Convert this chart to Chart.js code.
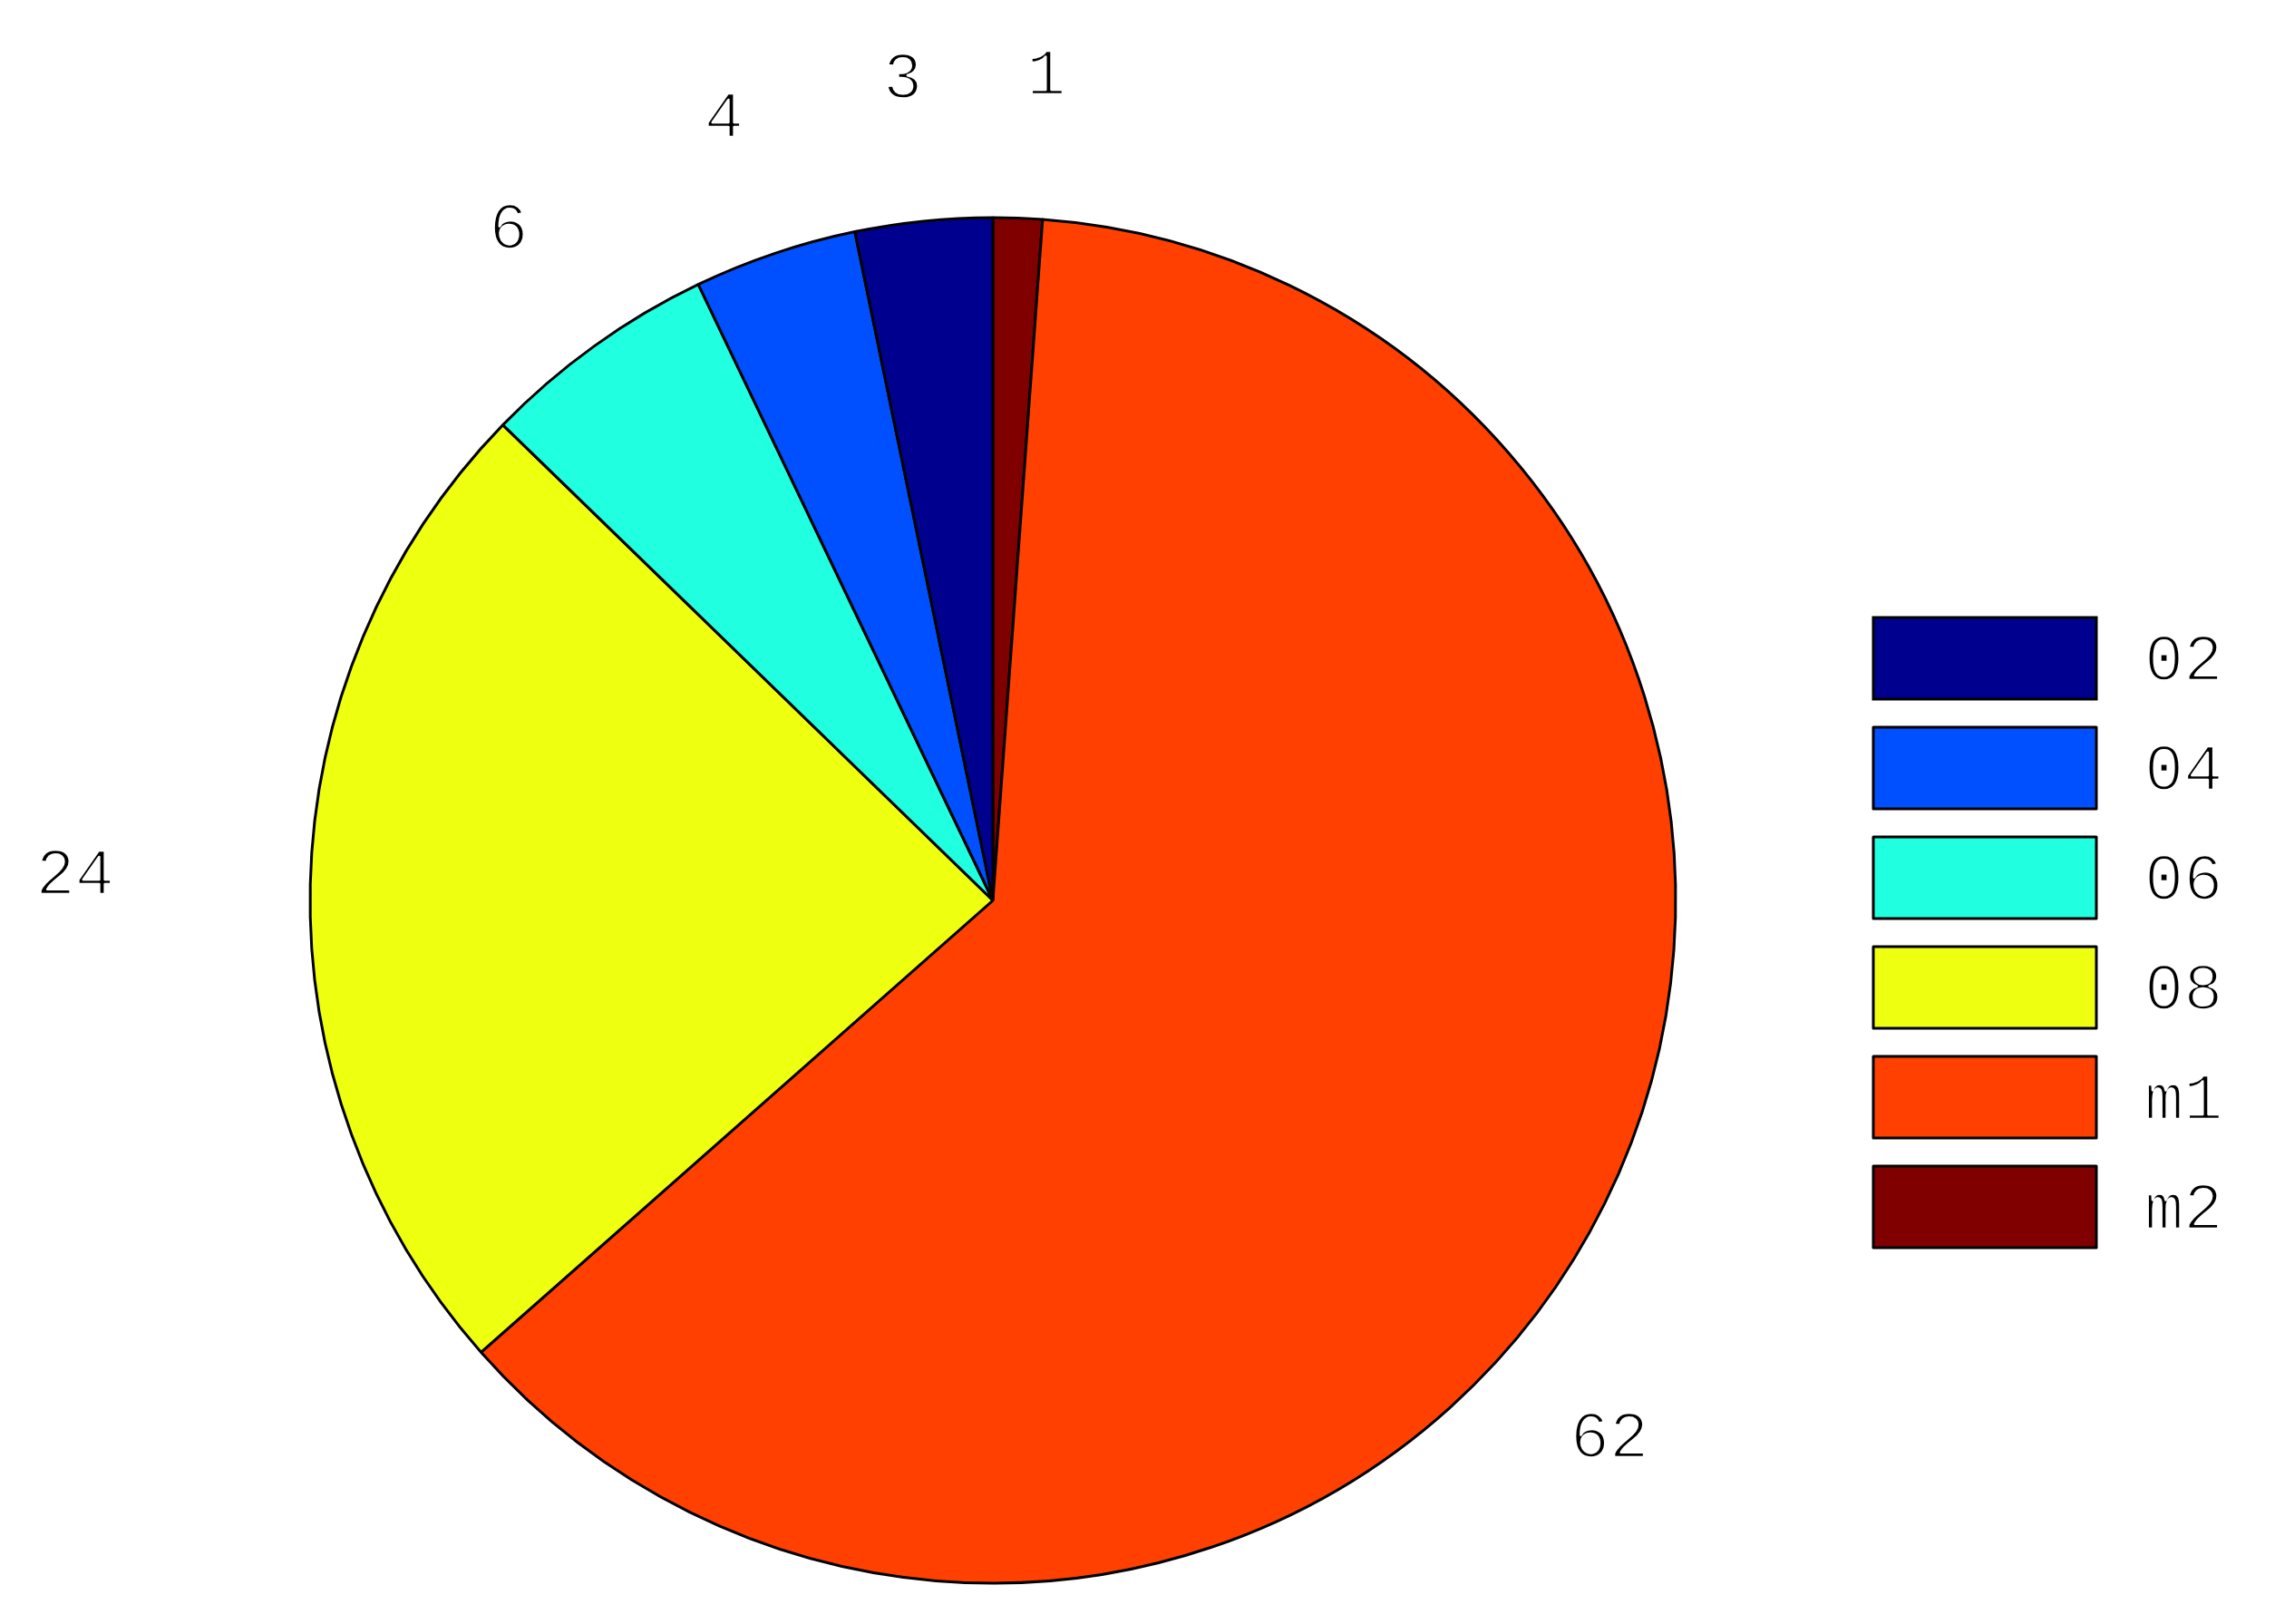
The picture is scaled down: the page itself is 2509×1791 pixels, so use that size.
<!DOCTYPE html>
<html>
<head>
<meta charset="utf-8">
<script src="https://cdn.jsdelivr.net/npm/chart.js@4/dist/chart.umd.min.js"></script>
<style>
  html, body { margin: 0; padding: 0; background: #ffffff; }
  #wrap { width: 2509px; height: 1791px; }
</style>
</head>
<body>
<div id="wrap"><canvas id="c" width="2509" height="1791"></canvas></div>
<script>
// ---- data ----
const categories = ['02', '04', '06', '08', 'm1', 'm2'];
const shares     = [3.24, 3.86, 5.64, 23.77, 62.33, 1.16];
const pctLabels  = ['3', '4', '6', '24', '62', '1'];
const colors     = ['#00008F', '#0050FF', '#20FFDF', '#EFFF10', '#FF4000', '#800000'];

// The reference pie runs counter-clockwise from 12 o'clock; Chart.js runs clockwise,
// so feed the dataset in reverse order.
const order = categories.map((_, i) => i).reverse();

const FONT = '"Liberation Mono", "Courier New", monospace';

// thin-stroke text: fill in black, then erode the glyph edges slightly with white
function thinText(ctx, text, x, y, erode) {
  ctx.fillStyle = '#000';
  ctx.fillText(text, x, y);
  if (erode > 0) {
    ctx.lineWidth = erode;
    ctx.strokeStyle = '#fff';
    ctx.lineJoin = 'round';
    ctx.strokeText(text, x, y);
  }
}

const pieLabels = {
  id: 'pieLabels',
  afterDatasetsDraw(chart, args, opts) {
    const ctx = chart.ctx;
    const meta = chart.getDatasetMeta(0);
    ctx.save();
    ctx.font = opts.fontSize + 'px ' + FONT;
    ctx.textAlign = 'center';
    ctx.textBaseline = 'alphabetic';
    meta.data.forEach((arc, k) => {
      const ci = order[k];
      const p = arc.getProps(['x', 'y', 'startAngle', 'endAngle', 'outerRadius'], true);
      const a = (p.startAngle + p.endAngle) / 2 + (opts.angleShift[ci] || 0) * Math.PI / 180;
      const r = p.outerRadius * opts.radiusFactor[ci];
      const tx = p.x + r * Math.cos(a);
      const ty = p.y + r * Math.sin(a);
      const text = pctLabels[ci];
      const m = ctx.measureText(text);
      const yoff = (m.actualBoundingBoxAscent - m.actualBoundingBoxDescent) / 2;
      thinText(ctx, text, tx, ty + yoff, opts.erode);
    });
    ctx.restore();
  }
};

const boxLegend = {
  id: 'boxLegend',
  afterDraw(chart, args, opts) {
    const ctx = chart.ctx;
    ctx.save();
    ctx.font = opts.fontSize + 'px ' + FONT;
    ctx.textAlign = 'left';
    ctx.textBaseline = 'alphabetic';
    categories.forEach((name, i) => {
      const y = opts.top + i * opts.pitch;
      ctx.fillStyle = colors[i];
      ctx.fillRect(opts.left, y, opts.boxW, opts.boxH);
      ctx.lineWidth = opts.lineWidth;
      ctx.strokeStyle = '#000';
      ctx.strokeRect(opts.left, y, opts.boxW, opts.boxH);
      const m = ctx.measureText('0');
      const yoff = (m.actualBoundingBoxAscent - m.actualBoundingBoxDescent) / 2;
      thinText(ctx, name, opts.textX, y + opts.boxH / 2 + yoff, opts.erode);
    });
    ctx.restore();
  }
};

new Chart(document.getElementById('c'), {
  type: 'pie',
  data: {
    labels: order.map(i => categories[i]),
    datasets: [{
      data: order.map(i => shares[i]),
      backgroundColor: order.map(i => colors[i]),
      borderColor: '#000000',
      borderWidth: 3,
      hoverOffset: 0
    }]
  },
  options: {
    responsive: false,
    animation: false,
    devicePixelRatio: 1,
    radius: 753,
    rotation: 0,
    layout: { padding: { left: 0, right: 319, top: 195, bottom: 0 } },
    events: [],
    plugins: {
      legend: { display: false },
      tooltip: { enabled: false },
      pieLabels: {
        fontSize: 72, erode: 2.5,
        radiusFactor: [1.215, 1.215, 1.215, 1.345, 1.196, 1.215],
        angleShift:   [-0.4, -0.3, 0, 0.45, 14.6, 1.6]
      },
      boxLegend: {
        fontSize: 72, left: 2066, top: 681, boxW: 246, boxH: 90, pitch: 121,
        lineWidth: 3, textX: 2365, erode: 2.5
      }
    }
  },
  plugins: [pieLabels, boxLegend]
});
</script>
</body>
</html>
